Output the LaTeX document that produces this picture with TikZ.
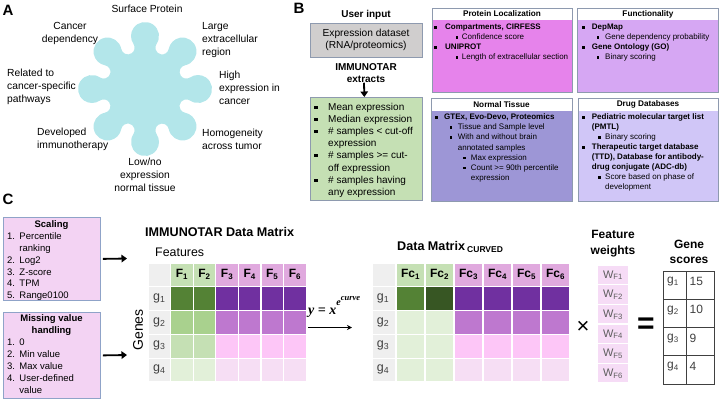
\documentclass[tikz,border=0pt]{standalone}
\usepackage{fontspec}
\setmainfont{Liberation Sans}
\newfontfamily\eqfont{Liberation Serif}
\usetikzlibrary{arrows.meta}
\definecolor{starc}{HTML}{B3E6EA}
\definecolor{bord}{HTML}{8E9AAF}
\definecolor{grayb}{HTML}{D0CECE}
\definecolor{greenb}{HTML}{C5E0B4}
\definecolor{plc}{HTML}{E683EB}
\definecolor{fnc}{HTML}{D6A7F3}
\definecolor{ntc}{HTML}{9D96D6}
\definecolor{ddc}{HTML}{D0C6F7}
\definecolor{cboxc}{HTML}{F3D3F3}
\definecolor{cbord}{HTML}{8FA3C8}
\definecolor{mgray}{HTML}{EFEFEF}
\definecolor{ghdr}{HTML}{C5E0B4}
\definecolor{phdr}{HTML}{E0A9DE}
\definecolor{g1c}{HTML}{548235}
\definecolor{g2c}{HTML}{A9D18E}
\definecolor{g3c}{HTML}{C5E0B4}
\definecolor{g4c}{HTML}{E2F0D9}
\definecolor{gdk}{HTML}{375623}
\definecolor{p1c}{HTML}{7030A0}
\definecolor{p2c}{HTML}{BE78CF}
\definecolor{p3c}{HTML}{FDC6F7}
\definecolor{p4c}{HTML}{F6DEF4}
\definecolor{wc}{HTML}{F6DCF6}
\definecolor{gtxt}{HTML}{404040}
\newcommand\fsz[1]{\fontsize{#1}{#1}\selectfont}
\newcommand\labf{\fontsize{10.3}{13}\selectfont}
\newcommand\bcf{\fontsize{8}{10}\selectfont}
\newcommand\gcf{\fontsize{10}{12}\selectfont}
\newcommand\ccf{\fontsize{9.5}{11.8}\selectfont}
\newcount\txn
\newcommand\txl[3][]{\global\advance\txn by 1 \node[anchor=base west,#1] (tx\the\txn) at (#2) {#3};}
\newcommand\bsq[3]{\fill ({#1-#3/2},{#2-#3/2}) rectangle ({#1+#3/2},{#2+#3/2});}
\begin{document}
\begin{tikzpicture}[x=1pt,y=-1pt, every node/.style={inner sep=0pt},
  bigarrow/.style={line width=1.8pt,-{Triangle[length=5.5pt,width=7.5pt]}},
  thinarrow/.style={line width=0.8pt,-{Stealth[length=5pt,width=5pt]}},
  cell/.style={draw=white,line width=1.2pt},
  bbord/.style={draw=bord,line width=0.7pt},
  cbox/.style={draw=cbord,fill=cboxc,line width=0.8pt,anchor=north west}]
\useasboundingbox (0,0) rectangle (720,400);

% panel letters
\node[font=\bfseries\fsz{15}] (labA) at (8,10) {A};
\node[font=\bfseries\fsz{15}] (labB) at (299,8) {B};
\node[font=\bfseries\fsz{15}] (labC) at (8,199.5) {C};

% ---------- A : star ----------
\begin{scope}[shift={(145,89)},x=1pt,y=1pt]
\fill[starc] (11.57,45.11) \foreach \k in {0,...,7}{
  arc[start angle={90+45*\k-124.3}, end angle={90+45*\k+124.3}, radius=14]
  arc[start angle={112.5+45*\k-78.2}, end angle={112.5+45*\k-281.8}, radius=6.72]
} -- cycle;
\end{scope}
\node[font=\fsz{10.3}] (sp) at (147,9) {Surface Protein};
\node[font=\labf,align=center] (cd) at (70,33.5) {Cancer\\dependency};
\node[font=\labf,align=left,anchor=west] (rel) at (7,87) {Related to\\cancer-specific\\pathways};
\node[font=\labf,align=left,anchor=west] (dev) at (37,139.5) {Developed\\immunotherapy};
\node[font=\labf,align=center] (low) at (145,174.5) {Low/no\\expression\\normal tissue};
\node[font=\labf,align=left,anchor=west] (lar) at (202,40) {Large\\extracellular\\region};
\node[font=\labf,align=left,anchor=west] (hig) at (219,88) {High\\expression in\\cancer};
\node[font=\labf,align=left,anchor=west] (hom) at (202,139.5) {Homogeneity\\across tumor};

% ---------- B ----------
\node[font=\bfseries\fsz{10}] (ui) at (366,15) {User input};
\node[bbord,fill=grayb,minimum width=112pt,minimum height=34pt,align=center,font=\fontsize{10.2}{12}\selectfont] (exp) at (366,40) {Expression dataset\\(RNA/proteomics)};
\node[font=\bfseries\fontsize{10}{12}\selectfont,align=center] (ext) at (366,73) {IMMUNOTAR\\extracts};
\node[bbord,fill=greenb,minimum width=112pt,minimum height=103pt,anchor=north west] (gbox) at (310,97) {};
\draw[bigarrow] ([xshift=-2pt]ext.south) -- ([xshift=-2pt]gbox.north);

\bsq{316}{107.3}{3.5}\txl[font=\gcf]{328,110.3}{Mean expression}
\bsq{316}{119.3}{3.5}\txl[font=\gcf]{328,122.3}{Median expression}
\bsq{316}{131.3}{3.5}\txl[font=\gcf]{328,134.3}{\# samples < cut-off}
\txl[font=\gcf]{328,146.3}{expression}
\bsq{316}{155.3}{3.5}\txl[font=\gcf]{328,158.3}{\# samples >= cut-}
\txl[font=\gcf]{328,171.3}{off expression}
\bsq{316}{180.3}{3.5}\txl[font=\gcf]{328,183.3}{\# samples having}
\txl[font=\gcf]{328,195.3}{any expression}

% four info boxes
\fill[plc] (432,20) rectangle (572,92);
\draw[bbord] (432,8) rectangle (572,92);
\fill[fnc] (577,20) rectangle (718,92);
\draw[bbord] (577,8) rectangle (718,92);
\fill[ntc] (431,110.5) rectangle (572,201);
\draw[bbord] (431,98) rectangle (572,201);
\fill[ddc] (578,110.5) rectangle (718,201);
\draw[bbord] (578,98) rectangle (718,201);

\node[font=\bfseries\fsz{8.2}] (plh) at (502,14) {Protein Localization};
\node[font=\bfseries\fsz{8.2}] (fnh) at (648,14) {Functionality};
\node[font=\bfseries\fsz{8.2}] (nth) at (501.5,104.5) {Normal Tissue};
\node[font=\bfseries\fsz{8.2}] (ddh) at (648,104.5) {Drug Databases};

% Protein localization
\bsq{435.5}{27.3}{3}\txl[font=\bcf\bfseries]{445,29.7}{Compartments, CIRFESS}
\bsq{456.7}{37.3}{2.4}\txl[font=\bcf]{461.7,39.7}{Confidence score}
\bsq{435.5}{47.3}{3}\txl[font=\bcf\bfseries]{445,49.7}{UNIPROT}
\bsq{456.7}{57.3}{2.4}\txl[font=\bcf]{461.7,59.7}{Length of extracellular section}
% Functionality
\bsq{583}{27.3}{3}\txl[font=\bcf\bfseries]{591.7,29.7}{DepMap}
\bsq{598}{37.3}{2.4}\txl[font=\bcf]{605,39.7}{Gene dependency probability}
\bsq{583}{47.3}{3}\txl[font=\bcf\bfseries]{591.7,49.7}{Gene Ontology (GO)}
\bsq{598}{57.3}{2.4}\txl[font=\bcf]{605,59.7}{Binary scoring}
% Normal tissue
\bsq{436}{117.3}{3}\txl[font=\bcf\bfseries]{444,119.7}{GTEx, Evo-Devo, Proteomics}
\bsq{451}{127.4}{2.4}\txl[font=\bcf]{457.7,129.8}{Tissue and Sample level}
\bsq{451}{137.5}{2.4}\txl[font=\bcf]{457.7,139.9}{With and without brain}
\txl[font=\bcf]{457.7,150}{annotated samples}
\bsq{464.3}{157.7}{2.4}\txl[font=\bcf]{470.7,160.1}{Max expression}
\bsq{464.3}{167.8}{2.4}\txl[font=\bcf]{470.7,170.2}{Count >= 90th percentile}
\txl[font=\bcf]{470.7,180.3}{expression}
% Drug databases
\bsq{583}{117.3}{3}\txl[font=\bcf\bfseries]{591.7,119.7}{Pediatric molecular target list}
\txl[font=\bcf\bfseries]{591.7,129.7}{(PMTL)}
\bsq{599.3}{137.3}{2.4}\txl[font=\bcf]{605,139.7}{Binary scoring}
\bsq{583}{147.3}{3}\txl[font=\bcf\bfseries]{591.7,149.7}{Therapeutic target database}
\txl[font=\bcf\bfseries]{591.7,159.7}{(TTD), Database for antibody-}
\txl[font=\bcf\bfseries]{591.7,169.7}{drug conjugate (ADC-db)}
\bsq{599.3}{177.3}{2.4}\txl[font=\bcf]{605,179.7}{Score based on phase of}
\txl[font=\bcf]{605,189.7}{development}

% ---------- C ----------
\node[cbox,minimum width=97pt,minimum height=83pt] (scal) at (3,217) {};
\node[cbox,minimum width=97pt,minimum height=86pt] (miss) at (3,312) {};
\node[font=\bfseries\fsz{9.5}] (scalt) at (51.5,225) {Scaling};
\txl[font=\ccf]{7,239.1}{\makebox[12.3pt][l]{1.}Percentile}
\txl[font=\ccf]{19.3,251.1}{ranking}
\txl[font=\ccf]{7,263.1}{\makebox[12.3pt][l]{2.}Log2}
\txl[font=\ccf]{7,275.1}{\makebox[12.3pt][l]{3.}Z-score}
\txl[font=\ccf]{7,286.1}{\makebox[12.3pt][l]{4.}TPM}
\txl[font=\ccf]{7,298.1}{\makebox[12.3pt][l]{5.}Range0100}
\node[font=\bfseries\fontsize{9.5}{12}\selectfont,align=center] (misst) at (51.5,325) {Missing value\\handling};
\txl[font=\ccf]{7,345.1}{\makebox[12.3pt][l]{1.}0}
\txl[font=\ccf]{7,357.1}{\makebox[12.3pt][l]{2.}Min value}
\txl[font=\ccf]{7,369.1}{\makebox[12.3pt][l]{3.}Max value}
\txl[font=\ccf]{7,381.1}{\makebox[12.3pt][l]{4.}User-defined}
\txl[font=\ccf]{19.3,393.1}{value}
\coordinate (a1) at (127,258.5);
\coordinate (a2) at (127,355);
\draw[bigarrow] ([xshift=2pt]scal.east) -- (a1);
\draw[bigarrow] ([xshift=2pt]miss.east) -- (a2);

% matrix 1
\node[font=\bfseries\fsz{12.6},anchor=west] (m1t) at (145,232) {IMMUNOTAR Data Matrix};
\node[font=\fsz{12.4},anchor=west] (feat) at (155,252) {Features};
\node[font=\fsz{14},rotate=90] (genes) at (138,330) {Genes};
\filldraw[cell,fill=mgray] (148,263) rectangle ++(22.6,23.8);
\foreach \i in {1,2}{\filldraw[cell,fill=ghdr] ({148+22.6*\i},263) rectangle ++(22.6,23.8);}
\foreach \i in {3,...,6}{\filldraw[cell,fill=phdr] ({148+22.6*\i},263) rectangle ++(22.6,23.8);}
\foreach \i in {1,...,6}{\node[font=\bfseries\fsz{12}] (mf\i) at ({148+22.6*\i+11.3},274.5) {F\textsubscript{\i}};}
\foreach \j/\gc/\pc in {1/g1c/p1c,2/g2c/p2c,3/g3c/p3c,4/g4c/p4c}{
  \filldraw[cell,fill=mgray] (148,{263+23.8*\j}) rectangle ++(22.6,23.8);
  \foreach \i in {1,2}{\filldraw[cell,fill=\gc] ({148+22.6*\i},{263+23.8*\j}) rectangle ++(22.6,23.8);}
  \foreach \i in {3,...,6}{\filldraw[cell,fill=\pc] ({148+22.6*\i},{263+23.8*\j}) rectangle ++(22.6,23.8);}
  \node[font=\fsz{12.5},text=gtxt] (mg\j) at (159.3,{263+23.8*\j+11.5}) {g\textsubscript{\j}};
}

% curve transform
\node[font={\eqfont\bfseries\itshape},anchor=base west] (eqn) at (308,314) {\fsz{14}y = x\raisebox{0.62em}{\fsz{10}e\raisebox{0.45em}{\fsz{8.5}curve}}};
\coordinate (ea) at (308,327.5);
\coordinate (eb) at (352,327.5);
\draw[thinarrow] (ea) -- (eb);

% matrix 2
\node[font=\bfseries\fsz{12.6},anchor=west] (m2t) at (397,247) {Data Matrix\,\raisebox{-0.4ex}{\fsz{8.5}CURVED}};
\filldraw[cell,fill=mgray] (372,263) rectangle ++(24,23.8);
\foreach \i in {1,2}{\filldraw[cell,fill=ghdr] ({396+29*(\i-1)},263) rectangle ++(29,23.8);}
\foreach \i in {3,...,6}{\filldraw[cell,fill=phdr] ({396+29*(\i-1)},263) rectangle ++(29,23.8);}
\foreach \i in {1,...,6}{\node[font=\bfseries\fsz{12}] (nf\i) at ({396+29*(\i-1)+14.5},274.5) {Fc\textsubscript{\i}};}
\foreach \j/\ga/\gb/\pc in {1/g1c/gdk/p1c,2/g4c/g4c/p2c,3/g4c/g4c/p3c,4/g4c/g4c/p4c}{
  \filldraw[cell,fill=mgray] (372,{263+23.8*\j}) rectangle ++(24,23.8);
  \filldraw[cell,fill=\ga] (396,{263+23.8*\j}) rectangle ++(29,23.8);
  \filldraw[cell,fill=\gb] (425,{263+23.8*\j}) rectangle ++(29,23.8);
  \foreach \i in {3,...,6}{\filldraw[cell,fill=\pc] ({396+29*(\i-1)},{263+23.8*\j}) rectangle ++(29,23.8);}
  \node[font=\fsz{12.5},text=gtxt] (ng\j) at (383,{263+23.8*\j+11.5}) {g\textsubscript{\j}};
}

% times, weights, equals, scores
\node[font=\fsz{22}] (times) at (583,327) {×};
\node[font=\bfseries\fontsize{12}{16}\selectfont,align=center] (fw) at (613,244) {Feature\\weights};
\foreach \k in {1,...,6}{
  \filldraw[cell,fill=wc] (597,{265+19.67*(\k-1)}) rectangle ++(32,19.67);
  \node[font=\fsz{11},text=gtxt!85] (w\k) at (613,{265+19.67*(\k-1)+10.3}) {W\textsubscript{F\k}};
}
\node[font=\bfseries\fsz{30}] (eqs) at (646,326) {=};
\node[font=\bfseries\fontsize{12}{15}\selectfont,align=center] (gs) at (689,251.5) {Gene\\scores};
\draw[gtxt,line width=0.8pt] (663,271) rectangle (714,384);
\draw[gtxt,line width=0.8pt] (686,271) -- (686,384);
\foreach \yy in {299.25,327.5,355.75}{\draw[gtxt,line width=0.8pt] (663,\yy) -- (714,\yy);}
\foreach \k/\v in {1/15,2/10,3/9,4/4}{
  \node[font=\fsz{12},text=gtxt,anchor=west] (sg\k) at (667,{271+28.25*(\k-1)+11}) {g\textsubscript{\k}};
  \node[font=\fsz{12},text=gtxt,anchor=west] (sv\k) at (689.5,{271+28.25*(\k-1)+10.5}) {\v};
}
\end{tikzpicture}
\end{document}
